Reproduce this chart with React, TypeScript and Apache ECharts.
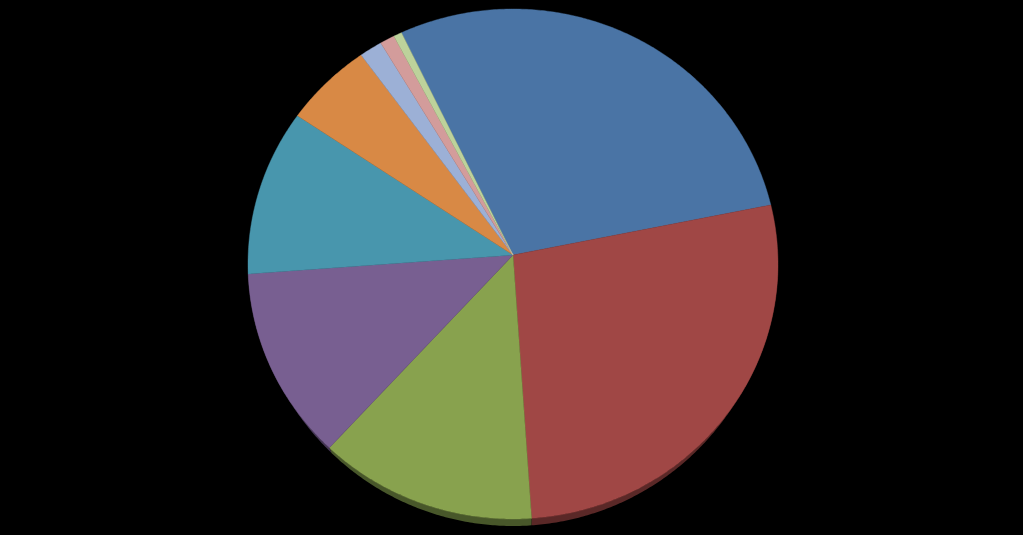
import React, { useEffect, useRef } from "react";
import * as echarts from "echarts";

const sliceNames = ["A", "B", "C", "D", "E", "F", "G", "H", "I"];
const sliceValues = [28.2, 27.6, 13.3, 12.2, 10.5, 5.4, 1.4, 0.9, 0.5];
const topColors = ["#4a74a5", "#a04745", "#88a24e", "#785f91", "#4896ad", "#d88945", "#9cb0d6", "#d39c9b", "#bdd29b"];
const sideColors = ["#2b4460", "#5a2827", "#48572a", "#433552", "#285562", "#7a4d27", "#586378", "#765757", "#6a7657"];

const START_DEG = -24.9;
const total = sliceValues.reduce((a, b) => a + b, 0);
const starts: number[] = [];
sliceValues.reduce((acc, v, i) => {
  starts[i] = acc;
  return acc + v;
}, 0);

const FACE = { cx: 513, cy: 264, rx: 265, ry: 255 };
const RIM = { cx: 513, cy: 264, rx: 262, ry: 262 };
const APEX: [number, number] = [513, 255];

function onEllipse(e: typeof FACE, deg: number): [number, number] {
  const a = (deg * Math.PI) / 180;
  return [e.cx + e.rx * Math.sin(a), e.cy - e.ry * Math.cos(a)];
}

function arc(e: typeof FACE, from: number, to: number): [number, number][] {
  const pts: [number, number][] = [];
  const n = Math.max(2, Math.ceil(Math.abs(to - from) / 0.5));
  for (let i = 0; i <= n; i++) pts.push(onEllipse(e, from + ((to - from) * i) / n));
  return pts;
}

export default function App() {
  const ref = useRef<HTMLDivElement>(null);
  useEffect(() => {
    const chart = echarts.init(ref.current!, undefined, { renderer: "svg" });
    chart.setOption({
      animation: false,
      backgroundColor: "#000000",
      series: [
        {
          type: "custom",
          coordinateSystem: "none",
          silent: true,
          data: sliceValues.map((value, i) => ({ name: sliceNames[i], value })),
          renderItem: (params: any) => {
            const i = params.dataIndex;
            const from = START_DEG + (starts[i] / total) * 360;
            const to = START_DEG + ((starts[i] + sliceValues[i]) / total) * 360;
            const faceArc = arc(FACE, from, to);
            const children: any[] = [];
            // the pie's thickness only shows along its lower edge
            const sideFrom = Math.max(from, 90);
            const sideTo = Math.min(to, 270);
            if (sideTo > sideFrom) {
              children.push({
                type: "polygon",
                z2: 0,
                shape: { points: [...arc(RIM, sideFrom, sideTo), ...arc(FACE, sideFrom, sideTo).reverse()] },
                style: { fill: sideColors[i] },
              });
            }
            children.push({
              type: "polygon",
              z2: 1,
              shape: { points: [APEX, ...faceArc] },
              style: { fill: topColors[i], stroke: topColors[i], lineWidth: 0.4 },
            });
            return { type: "group", children };
          },
        },
      ],
    });
    return () => chart.dispose();
  }, []);
  return (
    <div
      ref={ref}
      style={{ position: "absolute", left: 0, top: 0, width: 1023, height: 535, background: "#000" }}
    />
  );
}
